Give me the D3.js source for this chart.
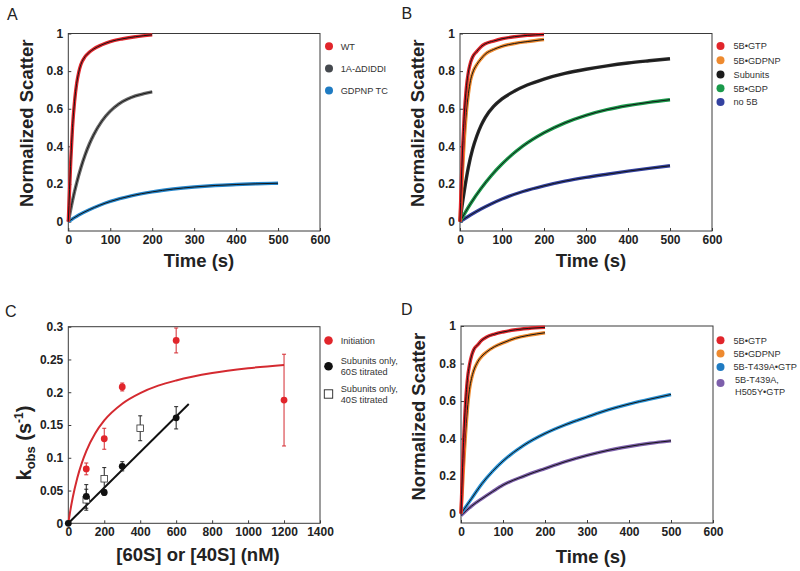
<!DOCTYPE html>
<html><head><meta charset="utf-8">
<script src="https://cdn.jsdelivr.net/npm/d3@7"></script>
<style>body{margin:0;background:#fff;} text{font-family:"Liberation Sans",Arial,Helvetica,sans-serif;}</style>
</head><body><svg id="chart" width="800" height="571"></svg>
<script>
// ---------- shared time grids (s) ----------
const timeShort = [0,3,6,10,15,20,25,30,40,50,60,80,100,130,160,200];
const timeMid   = [0,10,20,30,40,50,60,80,100,120,140,160,180,200];
const timeSub   = [0,5,10,20,30,40,50,60,80,100,130,160,200,250,300,350,400,450,500];
const timeLong  = [0,25,50,75,100,150,200,250,300,350,400,450,500];

// ---------- Panel A ----------
const aLabels = ["WT","1A-\u0394DIDDI","GDPNP TC"];
const aWT     = [0,0.17,0.33,0.5,0.64,0.735,0.795,0.835,0.877,0.9,0.917,0.94,0.957,0.972,0.983,0.993];
const aDIDDI  = [0,0.112,0.206,0.286,0.354,0.411,0.459,0.534,0.587,0.625,0.65,0.668,0.68,0.69];
const aGDPNP  = [0,0.035,0.063,0.087,0.107,0.137,0.158,0.173,0.184,0.192,0.197,0.201,0.204];

// ---------- Panel B ----------
const bLabels  = ["5B\u2022GTP","5B\u2022GDPNP","Subunits","5B\u2022GDP","no 5B"];
const bGTP     = [0,0.2,0.38,0.56,0.71,0.795,0.845,0.875,0.905,0.93,0.945,0.96,0.972,0.983,0.99,0.995];
const bGDPNP   = [0,0.13,0.27,0.43,0.58,0.68,0.75,0.79,0.835,0.865,0.89,0.915,0.932,0.947,0.957,0.968];
const bSub     = [0,0.085,0.16,0.29,0.385,0.455,0.51,0.553,0.612,0.652,0.694,0.726,0.758,0.788,0.81,0.828,0.843,0.855,0.866];
const bGDP     = [0,0.095,0.176,0.246,0.306,0.402,0.472,0.525,0.565,0.595,0.617,0.634,0.648];
const bNo5B    = [0,0.035,0.067,0.095,0.12,0.16,0.19,0.215,0.235,0.252,0.268,0.283,0.297];

// ---------- Panel C ----------
const cLabels    = [["Initiation"],["Subunits only,","60S titrated"],["Subunits only,","40S titrated"]];
const cInitConc  = [100,200,300,600,1200];
const cInit      = [0.083,0.129,0.208,0.279,0.188];
const cInitErr   = [0.009,0.016,0.006,0.019,0.07];
const c60Conc    = [0,100,200,300,600];
const c60        = [0,0.041,0.047,0.087,0.161];
const c60Err     = [0,0.018,0.004,0.007,0.017];
const c40Conc    = [100,200,400];
const c40        = [0.036,0.068,0.145];
const c40Err     = [0.016,0.017,0.019];
const cFitConc   = [0,10,25,50,75,100,150,200,300,400,500,600,800,1000,1200];
const cFitInit   = [0,0.0174,0.0397,0.0693,0.0919,0.1103,0.1375,0.157,0.1825,0.1987,0.21,0.218,0.2293,0.2366,0.2417];
const cLineConc  = [0,670];
const cLine      = [0,0.182];

// ---------- Panel D ----------
const dLabels  = [["5B\u2022GTP"],["5B\u2022GDPNP"],["5B-T439A\u2022GTP"],["5B-T439A,","H505Y\u2022GTP"]];
const dGTP     = [0,0.2,0.38,0.56,0.71,0.79,0.84,0.872,0.9,0.925,0.94,0.957,0.968,0.98,0.987,0.993];
const dGDPNP   = [0,0.12,0.25,0.4,0.55,0.66,0.72,0.76,0.81,0.84,0.86,0.89,0.91,0.935,0.95,0.964];
const dT439A   = [0,0.08,0.16,0.225,0.28,0.365,0.427,0.475,0.515,0.553,0.584,0.61,0.635];
const dH505Y   = [-0.01,0.04,0.08,0.117,0.152,0.2,0.24,0.278,0.31,0.337,0.358,0.375,0.388];

// ---------- ticks ----------
const timeTicks = [0,100,200,300,400,500,600];
const scatterTicks = [0,0.2,0.4,0.6,0.8,1];
const concTicks = [0,200,400,600,800,1000,1200,1400];
const kobsTicks = [0,0.05,0.1,0.15,0.2,0.25,0.3];

const svg = d3.select("#chart");
const AX = "#3a3a3a", TXT = "#222";
const RED="#e1252b", ORANGE="#ee8a2f", BLUE="#2586cc", GRAY="#6a6a6a", DARK="#45494e",
      BLK="#1b1b1b", GREEN="#1a9a4b", NAVY="#3442a0", PURPLE="#7d5fab";

function frame(g){
  const {x0,x1,y0,y1,xDom,yDom,xTicks,yTicks,yFmt} = g;
  const x = d3.scaleLinear().domain(xDom).range([x0,x1]);
  const y = d3.scaleLinear().domain(yDom).range([y1,y0]);
  const xa = svg.append("g").attr("transform",`translate(0,${y1})`)
    .call(d3.axisBottom(x).tickValues(xTicks).tickSize(-3).tickPadding(4).tickFormat(d3.format("d")));
  const ya = svg.append("g").attr("transform",`translate(${x0},0)`)
    .call(d3.axisLeft(y).tickValues(yTicks).tickSize(-3).tickPadding(5).tickFormat(yFmt));
  [xa,ya].forEach(a=>{
    a.select(".domain").remove();
    a.selectAll("line").attr("stroke",AX);
    a.selectAll("text").attr("fill",TXT).style("font-size","12px").style("font-weight","bold");
  });
  svg.append("rect").attr("x",x0).attr("y",y0).attr("width",x1-x0).attr("height",y1-y0)
    .attr("fill","none").attr("stroke",AX).attr("stroke-width",1);
  return {x,y};
}

function kinetic(sc, times, vals, color){
  const line = d3.line().x((d,i)=>sc.x(times[i])).y(d=>sc.y(d)).curve(d3.curveMonotoneX);
  svg.append("path").attr("d",line(vals)).attr("fill","none").attr("stroke",color).attr("stroke-width",3.4).attr("stroke-linejoin","round");
  svg.append("path").attr("d",line(vals)).attr("fill","none").attr("stroke","#151515").attr("stroke-width",1.0);
}

function ylabel(x,y,txt){
  svg.append("text").attr("transform",`translate(${x},${y}) rotate(-90)`).attr("text-anchor","middle")
    .attr("fill",TXT).style("font-size","18.5px").style("font-weight","bold").text(txt);
}
function xlabel(x,y,txt){
  svg.append("text").attr("x",x).attr("y",y).attr("text-anchor","middle")
    .attr("fill",TXT).style("font-size","18.5px").style("font-weight","bold").text(txt);
}
function letter(x,y,t){
  svg.append("text").attr("x",x).attr("y",y).attr("fill",TXT).style("font-size","16px").text(t);
}
function legend(items){
  items.forEach(it=>{
    if(it.square){
      svg.append("rect").attr("x",it.cx-4.2).attr("y",it.cy-4.2).attr("width",8.4).attr("height",8.4)
        .attr("fill","#fff").attr("stroke","#222").attr("stroke-width",0.9);
    } else {
      svg.append("circle").attr("cx",it.cx).attr("cy",it.cy).attr("r",it.r||4).attr("fill",it.color);
    }
    it.lines.forEach((l,i)=>{
      svg.append("text").attr("x",it.tx).attr("y",it.ty[i]).attr("dy","0.35em").attr("fill","#333")
        .style("font-size","9.2px").text(l);
    });
  });
}

const scFmt = d3.format("~g");
const timeX = [0,600], scatY = [-0.05,1];

// ===== Panel A =====
const A = frame({x0:68.3,x1:320,y0:33.5,y1:231,xDom:timeX,yDom:scatY,xTicks:timeTicks,yTicks:scatterTicks,yFmt:scFmt});
kinetic(A,timeLong,aGDPNP,BLUE);
kinetic(A,timeMid,aDIDDI,GRAY);
kinetic(A,timeShort,aWT,RED);
ylabel(33,123.3,"Normalized Scatter");
xlabel(199,267,"Time (s)");
letter(7,19.5,"A");
legend([
  {cx:329,cy:46.3,color:RED,tx:340.7,ty:[46.3],lines:[aLabels[0]]},
  {cx:329,cy:68.5,color:DARK,tx:340.7,ty:[68.5],lines:[aLabels[1]]},
  {cx:329,cy:90.5,color:"#1f7bc2",tx:340.7,ty:[90.5],lines:[aLabels[2]]}
]);

// ===== Panel B =====
const B = frame({x0:460,x1:712,y0:33.5,y1:231,xDom:timeX,yDom:scatY,xTicks:timeTicks,yTicks:scatterTicks,yFmt:scFmt});
kinetic(B,timeLong,bNo5B,NAVY);
kinetic(B,timeLong,bGDP,GREEN);
kinetic(B,timeSub,bSub,"#2a2a2a");
kinetic(B,timeShort,bGDPNP,ORANGE);
kinetic(B,timeShort,bGTP,RED);
ylabel(424,123.3,"Normalized Scatter");
xlabel(591,267,"Time (s)");
letter(401.5,18.5,"B");
const bCols=[RED,ORANGE,BLK,GREEN,NAVY], bY=[46,60.3,74.5,88.3,102];
legend(bLabels.map((l,i)=>({cx:720.5,cy:bY[i],color:bCols[i],tx:733.5,ty:[bY[i]],lines:[l]})));

// ===== Panel C =====
const C = frame({x0:68.3,x1:320,y0:326.7,y1:523.3,xDom:[0,1400],yDom:[0,0.3],xTicks:concTicks,yTicks:kobsTicks,yFmt:scFmt});
const cl = (xs)=>d3.line().x((d,i)=>C.x(xs[i])).y(d=>C.y(d));
svg.append("path").attr("d",cl(cFitConc).curve(d3.curveMonotoneX)(cFitInit)).attr("fill","none").attr("stroke","#d42a30").attr("stroke-width",2);
svg.append("path").attr("d",cl(cLineConc)(cLine)).attr("fill","none").attr("stroke","#111").attr("stroke-width",2);
function errbars(xs,ys,es,color){
  xs.forEach((xv,i)=>{
    if(!es[i]) return;
    const px=C.x(xv), lo=C.y(ys[i]-es[i]), hi=C.y(ys[i]+es[i]);
    svg.append("line").attr("x1",px).attr("x2",px).attr("y1",lo).attr("y2",hi).attr("stroke",color).attr("stroke-width",1);
    [lo,hi].forEach(yy=>svg.append("line").attr("x1",px-2).attr("x2",px+2).attr("y1",yy).attr("y2",yy).attr("stroke",color).attr("stroke-width",1));
  });
}
errbars(c40Conc,c40,c40Err,"#222");
errbars(c60Conc,c60,c60Err,"#222");
errbars(cInitConc,cInit,cInitErr,"#d42a30");
c40Conc.forEach((xv,i)=>svg.append("rect").attr("x",C.x(xv)-3.3).attr("y",C.y(c40[i])-3.3).attr("width",6.6).attr("height",6.6).attr("fill","#fff").attr("stroke","#333").attr("stroke-width",0.8));
c60Conc.forEach((xv,i)=>svg.append("circle").attr("cx",C.x(xv)).attr("cy",C.y(c60[i])).attr("r",3.4).attr("fill","#111"));
cInitConc.forEach((xv,i)=>svg.append("circle").attr("cx",C.x(xv)).attr("cy",C.y(cInit[i])).attr("r",3.4).attr("fill",RED));
// y label with sub/superscript
const kl = svg.append("text").attr("transform","translate(31,443) rotate(-90)").attr("text-anchor","middle")
  .attr("fill",TXT).style("font-weight","bold").style("font-size","20px");
kl.append("tspan").text("k");
kl.append("tspan").attr("dy",4).style("font-size","13px").text("obs");
kl.append("tspan").attr("dy",-4).text(" (s");
kl.append("tspan").attr("dy",-8).style("font-size","12px").text("-1");
kl.append("tspan").attr("dy",8).text(")");
xlabel(198,561,"[60S] or [40S] (nM)");
letter(5,316.5,"C");
legend([
  {cx:328.5,cy:340.5,r:4.3,color:RED,tx:340.7,ty:[340.7],lines:cLabels[0]},
  {cx:328.5,cy:366.3,r:4.3,color:"#111",tx:340.7,ty:[361,371.7],lines:cLabels[1]},
  {cx:328.5,cy:394,square:true,tx:340.7,ty:[388.7,399.4],lines:cLabels[2]}
]);

// ===== Panel D =====
const D = frame({x0:461,x1:713,y0:326,y1:523,xDom:timeX,yDom:scatY,xTicks:timeTicks,yTicks:scatterTicks,yFmt:scFmt});
kinetic(D,timeLong,dH505Y,PURPLE);
kinetic(D,timeLong,dT439A,"#2a93d6");
kinetic(D,timeShort,dGDPNP,ORANGE);
kinetic(D,timeShort,dGTP,RED);
ylabel(425,416.7,"Normalized Scatter");
xlabel(591,563,"Time (s)");
letter(401,315,"D");
legend([
  {cx:720.5,cy:340.3,color:RED,tx:733.5,ty:[340.3],lines:dLabels[0]},
  {cx:720.5,cy:353.5,color:ORANGE,tx:733.5,ty:[353.5],lines:dLabels[1]},
  {cx:720.5,cy:367,color:"#1f7bc2",tx:733.5,ty:[367],lines:dLabels[2]},
  {cx:720.5,cy:383,color:PURPLE,tx:735,ty:[379.5,391.5],lines:dLabels[3]}
]);
</script></body></html>
